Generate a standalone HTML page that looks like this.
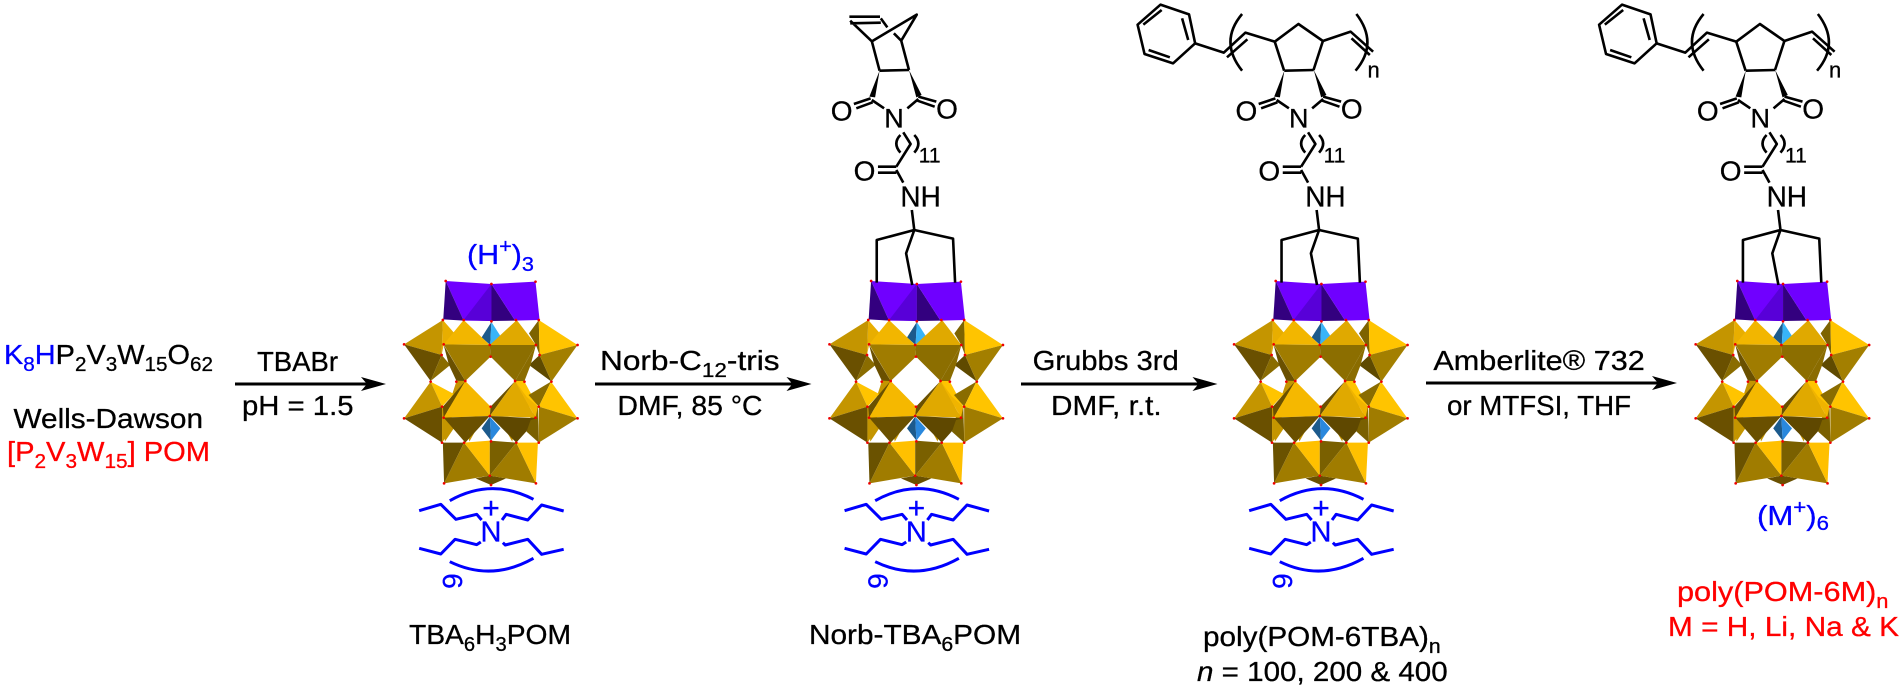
<!DOCTYPE html>
<html><head><meta charset="utf-8"><style>
html,body{margin:0;padding:0;background:#fff;width:1904px;height:697px;overflow:hidden}
svg{display:block}
text{font-family:"Liberation Sans",sans-serif;font-size:28px;fill:#000;stroke:#000;stroke-width:.3}
.b{fill:#0000ff;stroke:#0000ff}.r{fill:#ff0000;stroke:#ff0000}
.l{fill:none;stroke:#000;stroke-width:2.6;vector-effect:non-scaling-stroke;stroke-linejoin:round}
.bl{fill:none;stroke:#0000ff;stroke-width:3;vector-effect:non-scaling-stroke;stroke-linejoin:round}
text .s,.s{font-size:20px}
</style></head><body>
<svg width="1904" height="697" viewBox="0 0 1904 697" xmlns="http://www.w3.org/2000/svg">
<defs>
<g id="arrowhead"><path d="M0 0L-25 -7L-19 0L-25 7Z" fill="#000"/></g>
<g id="pom" transform="translate(0,250) scale(.40816,.33333)">
<!-- back pieces -->
<polygon points="1118,395 1128,385 1140,395 1112,470 1098,470" fill="#c49500"/>
<polygon points="1285,395 1275,385 1262,395 1295,470 1318,470" fill="#ffc400"/>
<polygon points="1083,470 1090,575 1120,520" fill="#c49500"/>
<polygon points="1318,470 1320,575 1290,520" fill="#8a6c00"/>
<polygon points="1150,575 1175,520 1140,510" fill="#c49500"/>
<polygon points="1255,575 1230,520 1265,510" fill="#c49500"/>
<!-- purple -->
<polygon points="1092,93 1204,102 1204,213 1136,212" fill="#7000ff"/>
<polygon points="1092,93 1086,208 1136,212" fill="#33007f"/>
<polygon points="1204,102 1136,210 1204,213" fill="#5800d8"/>
<polygon points="1204,102 1204,213 1262,212" fill="#33007f"/>
<polygon points="1204,102 1312,95 1322,210 1262,212" fill="#6f00ff"/>
<!-- blue top -->
<polygon points="1204,216 1180,262 1201,285" fill="#1c5a8c"/>
<polygon points="1204,216 1226,258 1201,285" fill="#38b4f8"/>
<!-- top row left -->
<polygon points="1085,210 1112,248 1087,285 1082,315" fill="#e8ae00"/>
<polygon points="1085,210 990,283 1082,315" fill="#c49500"/>
<polygon points="990,283 1055,393 1082,315" fill="#6a5000"/>
<polygon points="1082,315 1055,393 1103,345" fill="#8a6c00"/>
<polygon points="1087,285 1140,393 1118,392 1100,345" fill="#6a5000"/>
<polygon points="1136,210 1087,283 1200,285" fill="#f2b600"/>
<polygon points="1087,283 1200,285 1202,320 1140,393" fill="#a07c00"/>
<!-- top row right -->
<polygon points="1296,250 1320,210 1322,315 1313,285" fill="#7d6300"/>
<polygon points="1322,315 1351,395 1296,345" fill="#5f4a00"/>
<polygon points="1313,285 1262,393 1285,393 1300,345" fill="#8a6c00"/>
<polygon points="1266,210 1200,285 1313,285" fill="#e0a900"/>
<polygon points="1200,285 1313,285 1262,393 1202,320" fill="#8c6e00"/>
<polygon points="1320,210 1415,285 1322,315" fill="#ffc400"/>
<polygon points="1322,315 1415,285 1351,395" fill="#a37f00"/>
<!-- middle row -->
<polygon points="1055,395 1083,470 1112,432" fill="#ffc400"/>
<polygon points="1055,395 990,505 1083,470" fill="#c49500"/>
<polygon points="990,505 1083,578 1083,470" fill="#6a5000"/>
<polygon points="1083,470 1083,578 1108,535 1100,500" fill="#c49500"/>
<polygon points="1140,393 1085,470 1087,503" fill="#6a5000"/>
<polygon points="1140,393 1087,503 1200,498 1202,470" fill="#f5b800"/>
<polygon points="1262,393 1202,470 1200,498" fill="#6a5000"/>
<polygon points="1262,393 1200,498 1312,503" fill="#e0a900"/>
<polygon points="1262,393 1312,503 1318,470 1290,440" fill="#f0b400"/>
<polygon points="1087,503 1200,498 1140,578" fill="#6a5000"/>
<polygon points="1200,498 1318,505 1265,578" fill="#5f4800"/>
<polygon points="1318,505 1320,578 1290,545 1300,510" fill="#7a6000"/>
<polygon points="1200,500 1180,535 1203,572" fill="#1c5a8c"/>
<polygon points="1200,500 1226,535 1203,572" fill="#2a88dd"/>
<polygon points="1350,395 1295,435 1320,470" fill="#8a6c00"/>
<polygon points="1350,395 1415,505 1320,470" fill="#ffc400"/>
<polygon points="1320,470 1415,505 1320,578" fill="#a07c00"/>
<!-- bottom row -->
<polygon points="1165,685 1200,677 1240,685 1203,705" fill="#6a5000"/>
<polygon points="1085,578 1137,578 1088,700" fill="#6a5200"/>
<polygon points="1137,578 1200,677 1088,700" fill="#a07c00"/>
<polygon points="1137,578 1200,572 1200,677" fill="#ffc000"/>
<polygon points="1200,572 1265,578 1200,677" fill="#7a6000"/>
<polygon points="1265,578 1200,677 1313,700" fill="#a07c00"/>
<polygon points="1265,578 1318,578 1313,700" fill="#ffc000"/>
<!-- red oxygen dots -->
<g fill="#ee0000">
<ellipse cx="1092" cy="93" rx="3.3" ry="4"/><ellipse cx="1204" cy="102" rx="3.3" ry="4"/><ellipse cx="1312" cy="95" rx="3.3" ry="4"/>
<ellipse cx="1085" cy="210" rx="3.3" ry="4"/><ellipse cx="1136" cy="210" rx="3.3" ry="4"/><ellipse cx="1204" cy="214" rx="3.3" ry="4"/><ellipse cx="1264" cy="210" rx="3.3" ry="4"/><ellipse cx="1320" cy="210" rx="3.3" ry="4"/>
<ellipse cx="990" cy="283" rx="3.3" ry="4"/><ellipse cx="1087" cy="283" rx="3.3" ry="4"/><ellipse cx="1200" cy="285" rx="3.3" ry="4"/><ellipse cx="1313" cy="285" rx="3.3" ry="4"/><ellipse cx="1415" cy="285" rx="3.3" ry="4"/>
<ellipse cx="1082" cy="315" rx="3.3" ry="4"/><ellipse cx="1202" cy="320" rx="3.3" ry="4"/><ellipse cx="1322" cy="315" rx="3.3" ry="4"/>
<ellipse cx="1055" cy="395" rx="3.3" ry="4"/><ellipse cx="1118" cy="395" rx="3.3" ry="4"/><ellipse cx="1140" cy="393" rx="3.3" ry="4"/><ellipse cx="1262" cy="393" rx="3.3" ry="4"/><ellipse cx="1285" cy="395" rx="3.3" ry="4"/><ellipse cx="1351" cy="395" rx="3.3" ry="4"/>
<ellipse cx="1083" cy="470" rx="3.3" ry="4"/><ellipse cx="1202" cy="470" rx="3.3" ry="4"/><ellipse cx="1320" cy="470" rx="3.3" ry="4"/>
<ellipse cx="990" cy="505" rx="3.3" ry="4"/><ellipse cx="1087" cy="503" rx="3.3" ry="4"/><ellipse cx="1200" cy="498" rx="3.3" ry="4"/><ellipse cx="1312" cy="503" rx="3.3" ry="4"/><ellipse cx="1415" cy="505" rx="3.3" ry="4"/>
<ellipse cx="1083" cy="578" rx="3.3" ry="4"/><ellipse cx="1137" cy="578" rx="3.3" ry="4"/><ellipse cx="1203" cy="574" rx="3.3" ry="4"/><ellipse cx="1265" cy="578" rx="3.3" ry="4"/><ellipse cx="1320" cy="578" rx="3.3" ry="4"/>
<ellipse cx="1200" cy="677" rx="3.3" ry="4"/><ellipse cx="1088" cy="700" rx="3.3" ry="4"/><ellipse cx="1203" cy="705" rx="3.3" ry="4"/><ellipse cx="1313" cy="700" rx="3.3" ry="4"/>
</g>
</g>
<g id="tba" transform="translate(0,250) scale(.40816,.33333)">
<path class="bl" d="M1102 752Q1204 682 1307 748"/>
<path class="bl" d="M1102 935Q1204 996 1307 925"/>
<polyline class="bl" points="1027,782 1080,763 1117,808 1168,793 1180,810"/>
<polyline class="bl" points="1381,783 1327,765 1293,810 1240,793 1230,810"/>
<polyline class="bl" points="1027,895 1080,912 1115,868 1168,884 1178,876"/>
<polyline class="bl" points="1381,898 1327,913 1293,868 1238,885 1232,878"/>
</g>
<!-- imide + tether + tripod, zoom-7 space -->
<g id="lower" transform="translate(640,0) scale(.40816,.33333)">
<polyline class="l" points="587,212 659,210"/>
<polygon points="587,212 562,290 576,292" fill="#000"/>
<polygon points="659,210 677,292 690,285" fill="#000"/>
<path class="l" d="M565 295L524 312M570 307L530 325M568 300L598 325M682 290L726 305M680 302L722 320M682 297L655 325"/>
<polyline class="l" points="645,397 663,432 628,500"/>
<path class="l" d="M638 405Q618 430 638 458M672 405Q692 430 672 458"/>
<path class="l" d="M628 500L583 500M628 518L583 518M628 510L645 548M666 630L672 690"/>
<polyline class="l" points="580,848 580,720 672,690 767,716 772,848"/>
<polyline class="l" points="672,690 652,760 667,855"/>
</g>
<!-- polymer top, zoom-8 space -->
<g id="poly" transform="translate(1264,0) scale(.40816,.33333)">
<polygon class="l" points="877,14 947,43 962,130 908,190 838,162 821,74"/>
<path class="l" d="M880 30L835 74M930 55L945 120M848 150L900 172"/>
<polyline class="l" points="962,130 1032,158 1085,98 1157,125 1215,72 1275,123 1343,95 1398,155"/>
<path class="l" d="M1040 172L1090 118M1345 115L1390 165"/>
<path class="l" d="M1157 125L1180 212M1275 123L1252 210"/>
<path class="l" d="M1077 42Q1020 125 1077 212M1357 42Q1412 130 1355 212"/>
</g>
</defs>

<use href="#pom"/>
<use href="#pom" x="425.4"/>
<use href="#pom" x="830"/>
<use href="#pom" x="1291.6"/>
<use href="#tba"/>
<use href="#tba" x="425.4"/>
<use href="#tba" x="830"/>
<use href="#lower"/>
<use href="#lower" x="404.8"/>
<use href="#lower" x="866.2"/>
<use href="#poly"/>
<use href="#poly" x="-461.5"/>

<!-- norbornene -->
<g transform="translate(640,0) scale(.40816,.33333)">
<path class="l" d="M513 50L588 50M515 70L590 68M590 55L606 82M515 62L568 124M568 124L678 44L640 122M622 100L640 122M568 124L587 212M640 122L659 210"/>
</g>

<!-- arrows -->
<line x1="235" y1="384" x2="375" y2="384" stroke="#000" stroke-width="3"/><use href="#arrowhead" x="386" y="384"/>
<line x1="595" y1="384" x2="800" y2="384" stroke="#000" stroke-width="3"/><use href="#arrowhead" x="811.5" y="384"/>
<line x1="1021" y1="384" x2="1206" y2="384" stroke="#000" stroke-width="3"/><use href="#arrowhead" x="1217.5" y="384"/>
<line x1="1426" y1="383" x2="1666" y2="383" stroke="#000" stroke-width="3"/><use href="#arrowhead" x="1677" y="383"/>

<!-- left labels -->
<text x="4" y="364" textLength="209" lengthAdjust="spacingAndGlyphs"><tspan class="b">K</tspan><tspan class="b s" dy="7">8</tspan><tspan class="b" dy="-7">H</tspan>P<tspan class="s" dy="7">2</tspan><tspan dy="-7">V</tspan><tspan class="s" dy="7">3</tspan><tspan dy="-7">W</tspan><tspan class="s" dy="7">15</tspan><tspan dy="-7">O</tspan><tspan class="s" dy="7">62</tspan></text>
<text x="13.5" y="428" textLength="189.5" lengthAdjust="spacingAndGlyphs">Wells-Dawson</text>
<text class="r" x="7" y="461" textLength="203" lengthAdjust="spacingAndGlyphs">[P<tspan class="s r" dy="7">2</tspan><tspan dy="-7">V</tspan><tspan class="s r" dy="7">3</tspan><tspan dy="-7">W</tspan><tspan class="s r" dy="7">15</tspan><tspan dy="-7">] POM</tspan></text>

<text x="257" y="371" textLength="81" lengthAdjust="spacingAndGlyphs">TBABr</text>
<text x="242" y="415" textLength="111.5" lengthAdjust="spacingAndGlyphs">pH = 1.5</text>
<text x="600" y="370" textLength="179.6" lengthAdjust="spacingAndGlyphs">Norb-C<tspan class="s" dy="7">12</tspan><tspan dy="-7">-tris</tspan></text>
<text x="617.5" y="415" textLength="145" lengthAdjust="spacingAndGlyphs">DMF, 85 °C</text>
<text x="1032.6" y="370" textLength="146.2" lengthAdjust="spacingAndGlyphs">Grubbs 3rd</text>
<text x="1051" y="415" textLength="110.6" lengthAdjust="spacingAndGlyphs">DMF, r.t.</text>
<text x="1433.4" y="370" textLength="211.4" lengthAdjust="spacingAndGlyphs">Amberlite® 732</text>
<text x="1447" y="415" textLength="184" lengthAdjust="spacingAndGlyphs">or MTFSI, THF</text>

<!-- compound labels -->
<text x="409" y="644" textLength="162" lengthAdjust="spacingAndGlyphs">TBA<tspan class="s" dy="7">6</tspan><tspan dy="-7">H</tspan><tspan class="s" dy="7">3</tspan><tspan dy="-7">POM</tspan></text>
<text x="809" y="644" textLength="212" lengthAdjust="spacingAndGlyphs">Norb-TBA<tspan class="s" dy="7">6</tspan><tspan dy="-7">POM</tspan></text>
<text x="1203" y="646" textLength="237.7" lengthAdjust="spacingAndGlyphs">poly(POM-6TBA)<tspan class="s" dy="7">n</tspan></text>
<text x="1197" y="681" textLength="250.7" lengthAdjust="spacingAndGlyphs"><tspan font-style="italic">n</tspan> = 100, 200 &amp; 400</text>
<text class="r" x="1677" y="601" textLength="211.5" lengthAdjust="spacingAndGlyphs">poly(POM-6M)<tspan class="s r" dy="7">n</tspan></text>
<text class="r" x="1668" y="636" textLength="231" lengthAdjust="spacingAndGlyphs">M = H, Li, Na &amp; K</text>

<!-- ions -->
<text class="b" x="467" y="264" textLength="67" lengthAdjust="spacingAndGlyphs">(H<tspan class="s b" dy="-11">+</tspan><tspan dy="11">)</tspan><tspan class="s b" dy="7">3</tspan></text>
<text class="b" x="1757" y="525" textLength="72" lengthAdjust="spacingAndGlyphs">(M<tspan class="s b" dy="-11">+</tspan><tspan dy="11">)</tspan><tspan class="s b" dy="5">6</tspan></text>

<!-- TBA text -->
<g>
<text class="b" x="491" y="518" text-anchor="middle" style="font-size:30px">+</text>
<text class="b" x="491" y="541.5" text-anchor="middle" style="font-size:29px">N</text>
<text class="b" x="453" y="591" text-anchor="middle" transform="rotate(90 453 581)" style="font-size:28px">6</text>
</g>
<g transform="translate(425.4,0)">
<text class="b" x="491" y="518" text-anchor="middle" style="font-size:30px">+</text>
<text class="b" x="491" y="541.5" text-anchor="middle" style="font-size:29px">N</text>
<text class="b" x="453" y="591" text-anchor="middle" transform="rotate(90 453 581)" style="font-size:28px">6</text>
</g>
<g transform="translate(830,0)">
<text class="b" x="491" y="518" text-anchor="middle" style="font-size:30px">+</text>
<text class="b" x="491" y="541.5" text-anchor="middle" style="font-size:29px">N</text>
<text class="b" x="453" y="591" text-anchor="middle" transform="rotate(90 453 581)" style="font-size:28px">6</text>
</g>

<!-- molecule atoms -->
<g>
<text x="841.6" y="120.5" text-anchor="middle">O</text><text x="947" y="118.5" text-anchor="middle">O</text><text x="894" y="127.7" text-anchor="middle" style="font-size:27px">N</text>
<text x="864.5" y="180.5" text-anchor="middle">O</text><text x="900.4" y="206.7" style="font-size:29px" textLength="40.4" lengthAdjust="spacingAndGlyphs">NH</text><text x="918.8" y="162.7" style="font-size:21px">11</text>
</g>
<g transform="translate(404.8,0)">
<text x="841.6" y="120.5" text-anchor="middle">O</text><text x="947" y="118.5" text-anchor="middle">O</text><text x="894" y="127.7" text-anchor="middle" style="font-size:27px">N</text>
<text x="864.5" y="180.5" text-anchor="middle">O</text><text x="900.4" y="206.7" style="font-size:29px" textLength="40.4" lengthAdjust="spacingAndGlyphs">NH</text><text x="918.8" y="162.7" style="font-size:21px">11</text>
</g>
<g transform="translate(866.2,0)">
<text x="841.6" y="120.5" text-anchor="middle">O</text><text x="947" y="118.5" text-anchor="middle">O</text><text x="894" y="127.7" text-anchor="middle" style="font-size:27px">N</text>
<text x="864.5" y="180.5" text-anchor="middle">O</text><text x="900.4" y="206.7" style="font-size:29px" textLength="40.4" lengthAdjust="spacingAndGlyphs">NH</text><text x="918.8" y="162.7" style="font-size:21px">11</text>
</g>
<text x="1829" y="77.3" style="font-size:22px">n</text>
<text x="1367.5" y="77.3" style="font-size:22px">n</text>
</svg>
</body></html>
